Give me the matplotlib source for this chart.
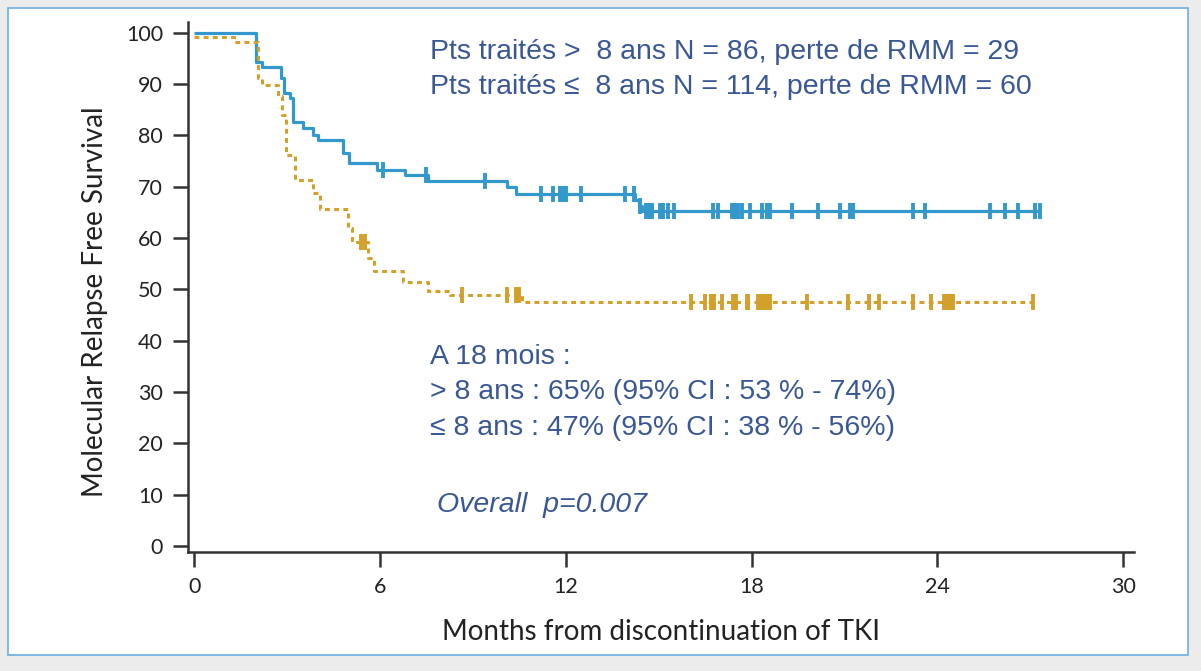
import numpy as np
import matplotlib.pyplot as plt
from matplotlib.patches import Rectangle

# group > 8 years (blue, solid)
t_long = [0, 2.0, 2.2, 2.8, 2.9, 3.1, 3.2, 3.5, 3.85, 4.0, 4.8, 5.0, 5.9, 6.8, 7.55, 10.1, 10.4, 14.25, 14.35, 14.45]
s_long = [100, 94.3, 93.4, 91.2, 88.3, 87.3, 82.6, 81.5, 80.1, 79.1, 76.6, 74.7, 73.3, 72.2, 71.2, 69.9, 68.6, 67.5, 66.3, 65.2]
end_long = 27.3
cens_long = [6.1, 7.5, 9.4, 11.2, 11.6, 11.8, 11.9, 12.0, 12.5, 13.9, 14.2,
             14.4, 14.6, 14.7, 14.8, 15.05, 15.15, 15.3, 15.5, 16.76, 16.9,
             17.37, 17.47, 17.57, 17.7, 17.95, 18.34, 18.5, 18.6, 19.3, 20.15,
             20.86, 21.18, 21.28, 23.2, 23.6, 25.7, 26.2, 26.6, 27.15, 27.3]

# group <= 8 years (gold, dotted)
t_short = [0, 1.3, 2.07, 2.2, 2.7, 2.85, 2.97, 3.26, 3.85, 4.05, 4.97, 5.1, 5.6, 5.8, 6.75, 7.55, 8.26, 10.6]
s_short = [99.1, 98.2, 91.2, 89.9, 87.6, 84.0, 76.2, 71.3, 68.8, 65.6, 62.0, 59.2, 56.1, 53.5, 51.5, 49.7, 48.9, 47.5]
end_short = 27.1
cens_short = [5.4, 5.5, 8.65, 10.1, 10.4, 10.5, 16.05, 16.5, 16.7, 16.8, 17.05,
              17.4, 17.45, 17.5, 17.85, 17.9, 18.2, 18.3, 18.4, 18.5, 18.6,
              19.8, 21.1, 21.8, 22.1, 23.2, 23.8, 24.2, 24.3, 24.4, 24.5, 27.1]

xticks = [0, 6, 12, 18, 24, 30]
yticks = list(range(0, 101, 10))

blue = '#3399cc'
gold = '#d4a02c'
txt = '#3a5795'

fig = plt.figure(figsize=(12.01, 6.71), dpi=100, facecolor='#ececec')
fig.patches.append(Rectangle((8 / 1201, 16 / 671), 1180 / 1201, 647 / 671,
                             transform=fig.transFigure, facecolor='white',
                             edgecolor='#6aaee0', lw=1.2, zorder=-5))
ax = fig.add_axes([188 / 1201, (671 - 552) / 671, 946 / 1201, 530 / 671])
ax.set_zorder(2)
ax.set_facecolor('none')


def km(ax, t, s, end, cens, color, ls, lw):
    tt = list(t) + [end]
    ss = list(s) + [s[-1]]
    ax.step(tt, ss, where='post', color=color, ls=ls, lw=lw, solid_capstyle='butt',
            dash_capstyle='butt')
    idx = np.searchsorted(t, cens, side='right') - 1
    ax.plot(cens, np.array(s)[idx], ls='none', marker='|', ms=12, mew=2.8, color=color)


km(ax, t_long, s_long, end_long, cens_long, blue, '-', 2.3)
km(ax, t_short, s_short, end_short, cens_short, gold, (0, (1.6, 1.4)), 2.2)

ax.set_xlim(-0.2, 30.35)
ax.set_ylim(-1.2, 102.1)
ax.set_xticks(xticks)
ax.set_yticks(yticks)
for sp in ['top', 'right']:
    ax.spines[sp].set_visible(False)
for sp in ['left', 'bottom']:
    ax.spines[sp].set_linewidth(1.8)
    ax.spines[sp].set_color('#333333')
ax.tick_params(length=11, width=1.8, pad=7, color='#333333', labelsize=15.5, labelcolor='#222222')
for lab in ax.get_xticklabels() + ax.get_yticklabels():
    lab.set_family('Lato')

ax.set_ylabel('Molecular Relapse Free Survival', family='Lato', fontsize=20, color='#222222')
ax.yaxis.set_label_coords(-0.085, 0.472)
ax.set_xlabel('Months from discontinuation of TKI', family='Lato', fontsize=20, color='#222222', labelpad=16)

font = dict(family='Liberation Sans', fontsize=20.5, color=txt, va='center')
ax.text(7.62, 96.3, 'Pts traités >  8 ans N = 86, perte de RMM = 29', **font)
ax.text(7.62, 89.5, 'Pts traités ≤  8 ans N = 114, perte de RMM = 60', **font)
ax.text(7.62, 36.8, 'A 18 mois :', **font)
ax.text(7.62, 29.9, '> 8 ans : 65% (95% CI : 53 % - 74%)', **font)
ax.text(7.62, 23.0, '≤ 8 ans : 47% (95% CI : 38 % - 56%)', **font)
ax.text(7.85, 8.0, 'Overall  p=0.007', style='italic', **font)

fig.savefig('out.png', dpi=100, facecolor=fig.get_facecolor())
